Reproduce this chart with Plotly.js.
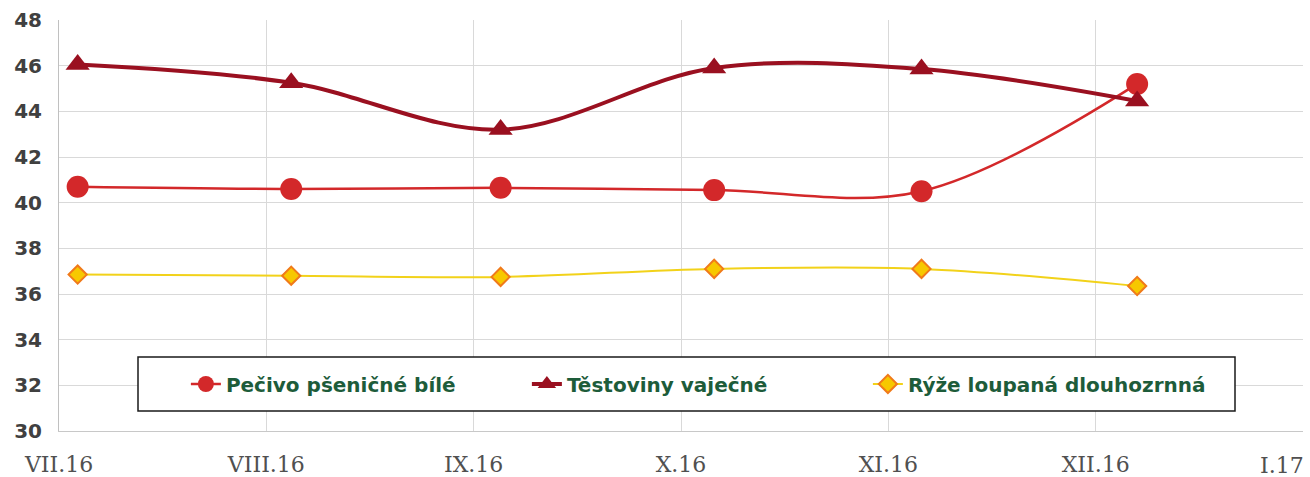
<!DOCTYPE html>
<html>
<head>
<meta charset="utf-8">
<script src="https://cdn.plot.ly/plotly-3.0.1.min.js"></script>
<style>html,body{margin:0;padding:0;background:#fff;}#chart{width:1310px;height:477px;}</style>
</head>
<body>
<div id="chart"></div>
<script>
// Tick labels (months) and positions of the month ticks
var tickLabels = ["VII.16", "VIII.16", "IX.16", "X.16", "XI.16", "XII.16", "I.17"];
var tickPositions = [0, 1, 2, 3, 4, 5, 6];

// Observation positions (in months since VII.16)
var obsX = [0.09, 1.12, 2.13, 3.16, 4.16, 5.2];

// Series values
var pecivo = [40.7, 40.6, 40.65, 40.55, 40.5, 45.2];
var testoviny = [46.05, 45.25, 43.2, 45.9, 45.85, 44.45];
var ryze = [36.85, 36.8, 36.75, 37.1, 37.1, 36.35];

var seriesNames = ["Pečivo pšeničné bílé", "Těstoviny vaječné", "Rýže loupaná dlouhozrnná"];

var traces = [
  {
    x: obsX, y: pecivo, name: seriesNames[0], type: "scatter", mode: "lines+markers",
    line: {color: "#d3282a", width: 2.5, shape: "spline", smoothing: 1},
    marker: {symbol: "circle", size: 22, color: "#d3282a"}
  },
  {
    x: obsX, y: testoviny, name: seriesNames[1], type: "scatter", mode: "lines+markers",
    line: {color: "#9a1020", width: 4, shape: "spline", smoothing: 1},
    marker: {symbol: "triangle-up", size: 21, color: "#9a1020"}
  },
  {
    x: obsX, y: ryze, name: seriesNames[2], type: "scatter", mode: "lines+markers",
    line: {color: "#f2d21a", width: 2, shape: "spline", smoothing: 1},
    marker: {symbol: "diamond", size: 14, color: "#f7c800", line: {color: "#f07a1a", width: 2}}
  }
];

var last = tickLabels.length - 1;
// last label is drawn as a right-aligned annotation so it stays inside the page
var tickText = tickLabels.map(function (t, i) { return i === last ? "" : t; });
var xTickFont = {family: "DejaVu Serif", size: 22, color: "#505050"};

var layout = {
  width: 1310, height: 477,
  margin: {l: 59, r: 7, t: 20, b: 46},
  paper_bgcolor: "#fff", plot_bgcolor: "#fff",
  showlegend: true,
  xaxis: {
    range: [0, 6], tickmode: "array", tickvals: tickPositions, ticktext: tickText,
    showgrid: true, gridcolor: "#d9d9d9", gridwidth: 1,
    showline: true, linecolor: "#c8c8c8", linewidth: 1, mirror: false,
    zeroline: false, ticks: "", ticklabelstandoff: 14,
    tickfont: xTickFont
  },
  yaxis: {
    range: [30, 48], tickmode: "linear", tick0: 30, dtick: 2,
    showgrid: true, gridcolor: "#d9d9d9", gridwidth: 1,
    showline: true, linecolor: "#c0c0c0", linewidth: 1,
    zeroline: false, ticks: "", ticklabelstandoff: 12,
    tickfont: {family: "DejaVu Sans", size: 20, color: "#404040", weight: "bold"}
  },
  legend: {
    orientation: "h", x: 0.102, xanchor: "left", y: 0.1144, yanchor: "middle",
    bgcolor: "rgba(0,0,0,0)", borderwidth: 0,
    entrywidth: 296, entrywidthmode: "pixels",
    font: {family: "DejaVu Sans", size: 20, color: "#1d5c3a", weight: "bold"}
  },
  annotations: [{
    x: tickPositions[last], xref: "x", y: 0, yref: "paper",
    text: tickLabels[last], showarrow: false,
    xanchor: "right", yanchor: "middle", xshift: 3, yshift: -34,
    font: xTickFont
  }],
  shapes: [{
    type: "rect", xref: "paper", yref: "paper",
    x0: (138 - 59) / 1244, x1: (1235 - 59) / 1244,
    y0: (431 - 411) / 411, y1: (431 - 357) / 411,
    fillcolor: "#ffffff", line: {color: "#1a1a1a", width: 1.5}, layer: "above"
  }]
};

Plotly.newPlot("chart", traces, layout, {staticPlot: true, displayModeBar: false});
</script>
</body>
</html>
